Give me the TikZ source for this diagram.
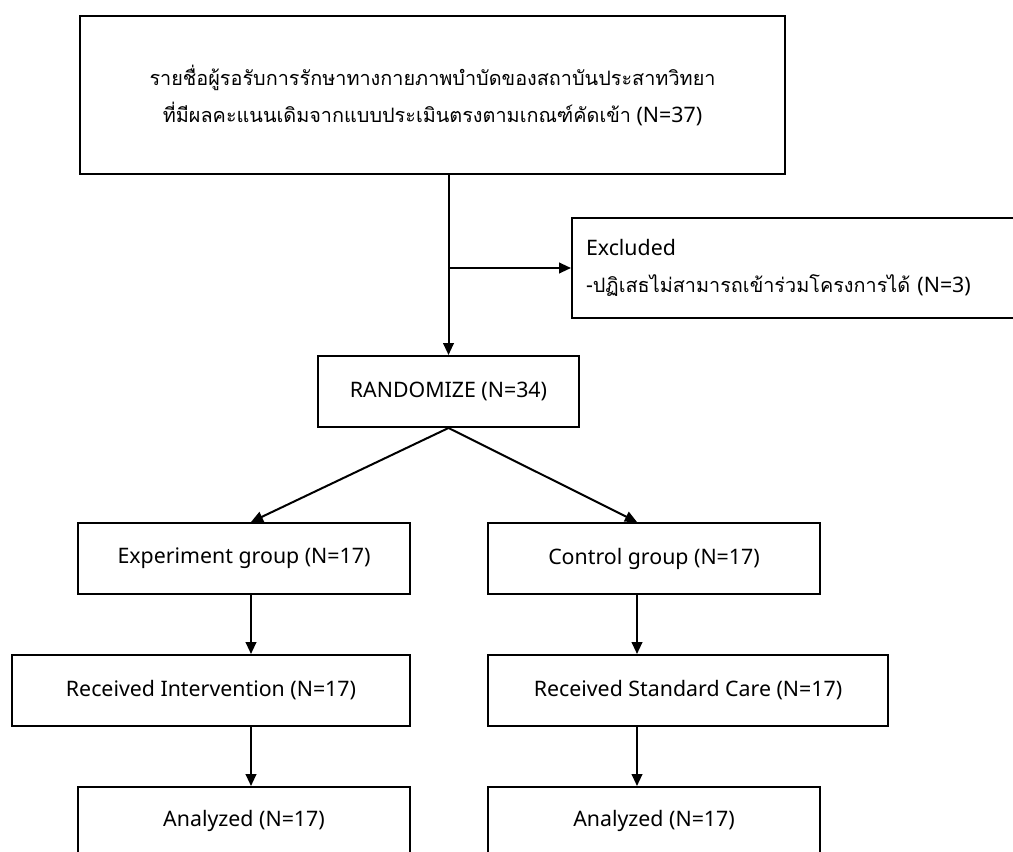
\documentclass[tikz,border=0pt]{standalone}
\usepackage{fontspec}
\setmainfont{Noto Sans}
\newfontfamily\thaifont[Script=Thai,Scale=0.93]{Loma}
\usetikzlibrary{arrows.meta}
\begin{document}
\begin{tikzpicture}[x=0.75pt,y=-0.75pt,line width=1.5pt,-{Triangle[length=9pt,width=8pt]}]
  \tikzstyle{box}=[draw,rectangle,inner sep=0pt,minimum width=249pt,minimum height=53.25pt,
    font=\fontsize{16}{27.75}\selectfont]
  \useasboundingbox (0,0) rectangle (1013,852);
  \node[box,minimum width=528.75pt,minimum height=118.5pt,align=center] (list) at (432.5,95)
    {{\thaifont รายชื่อผู้รอรับการรักษาทางกายภาพบำบัดของสถาบันประสาทวิทยา}\\
     {\thaifont ที่มีผลคะแนนเดิมจากแบบประเมินตรงตามเกณฑ์คัดเข้า} (N=37)};
  \node[box,minimum width=345pt,minimum height=75pt,text width=324pt,align=left] (excl) at (802,268)
    {Excluded\\ -{\thaifont ปฏิเสธไม่สามารถเข้าร่วมโครงการได้} (N=3)};
  \node[box,minimum width=195.75pt] (rand) at (448.5,391.5) {RANDOMIZE (N=34)};
  \node[box] (expg) at (244,558.5) {Experiment group (N=17)};
  \node[box] (ctlg) at (654,558.5) {Control group (N=17)};
  \node[box,minimum width=298.5pt] (intv) at (211,690.5) {Received Intervention (N=17)};
  \node[box,minimum width=300pt] (care) at (688,690.5) {Received Standard Care (N=17)};
  \node[box,minimum height=51pt] (anae) at (244,821) {Analyzed (N=17)};
  \node[box,minimum height=51pt] (anac) at (654,821) {Analyzed (N=17)};
  % columns
  \coordinate (lcol) at (251,0);
  \coordinate (rcol) at (637,0);
  \draw (list.south -| rand.north) -- (rand.north);
  \draw (excl.west -| rand.north) -- (excl.west);
  \draw (rand.south) -- (expg.north -| lcol);
  \draw (rand.south) -- (ctlg.north -| rcol);
  \draw (expg.south -| lcol) -- (intv.north -| lcol);
  \draw (ctlg.south -| rcol) -- (care.north -| rcol);
  \draw (intv.south -| lcol) -- (anae.north -| lcol);
  \draw (care.south -| rcol) -- (anac.north -| rcol);
\end{tikzpicture}
\end{document}
